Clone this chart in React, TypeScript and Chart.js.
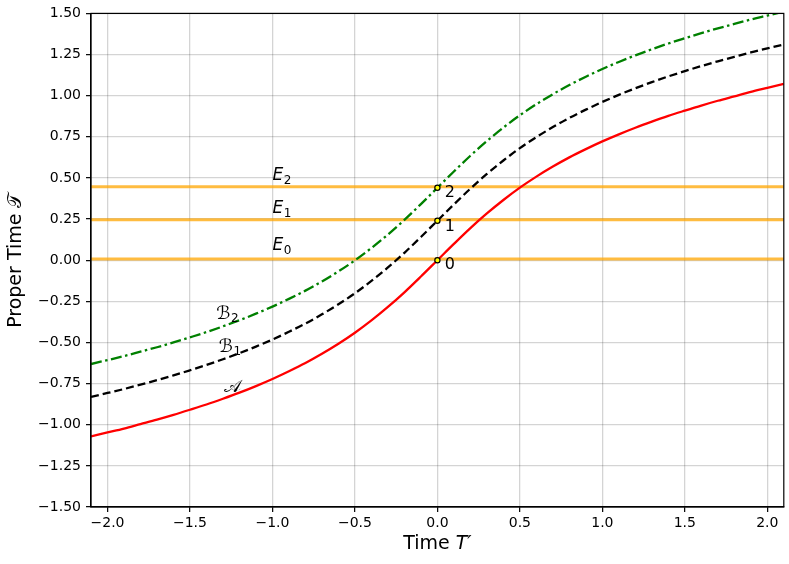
import React, { useEffect, useRef } from "react";
import { Chart, registerables } from "chart.js";

Chart.register(...registerables);

// ---- data ----
const T_PRIME = [
  -2.1, -2.0, -1.9, -1.8, -1.7, -1.6, -1.5, -1.4, -1.3, -1.2, -1.1, -1.0, -0.9, -0.8, -0.7, -0.6, -0.5, -0.4, -0.3, -0.2, -0.1,
  0.0, 0.1, 0.2, 0.3, 0.4, 0.5, 0.6, 0.7, 0.8, 0.9, 1.0, 1.1, 1.2, 1.3, 1.4, 1.5, 1.6, 1.7, 1.8, 1.9, 2.0, 2.1,
];
const CURVE_A = [
  -1.071, -1.047, -1.023, -0.996, -0.969, -0.94, -0.909, -0.877, -0.842, -0.805, -0.765, -0.722, -0.675, -0.625, -0.569, -0.508, -0.441, -0.366, -0.284, -0.195, -0.099,
  0.0, 0.099, 0.195, 0.284, 0.366, 0.441, 0.508, 0.569, 0.625, 0.675, 0.722, 0.765, 0.805, 0.842, 0.877, 0.909, 0.94, 0.969, 0.996, 1.023, 1.047, 1.071,
];
const CURVE_B1 = [
  -0.831, -0.807, -0.783, -0.756, -0.729, -0.7, -0.669, -0.637, -0.602, -0.565, -0.525, -0.482, -0.435, -0.385, -0.329, -0.268, -0.201, -0.126, -0.044, 0.045, 0.141,
  0.24, 0.339, 0.435, 0.524, 0.606, 0.681, 0.748, 0.809, 0.865, 0.915, 0.962, 1.005, 1.045, 1.082, 1.117, 1.149, 1.18, 1.209, 1.236, 1.263, 1.287, 1.311,
];
const CURVE_B2 = [
  -0.631, -0.607, -0.583, -0.556, -0.529, -0.5, -0.469, -0.437, -0.402, -0.365, -0.325, -0.282, -0.235, -0.185, -0.129, -0.068, -0.001, 0.074, 0.156, 0.245, 0.341,
  0.44, 0.539, 0.635, 0.724, 0.806, 0.881, 0.948, 1.009, 1.065, 1.115, 1.162, 1.205, 1.245, 1.282, 1.317, 1.349, 1.38, 1.409, 1.436, 1.463, 1.487, 1.511,
];
const EVENT_LEVELS = [0.008, 0.246, 0.446]; // E0, E1, E2
const EVENT_LEVEL_NAMES = ["0", "1", "2"];
const EVENT_POINT_T = [0, 0, 0];
const EVENT_POINT_TAU = [0.0, 0.24, 0.44];
const EVENT_POINT_LABELS = ["0", "1", "2"];
const X_TICKS = [-2.0, -1.5, -1.0, -0.5, 0.0, 0.5, 1.0, 1.5, 2.0];
const Y_TICKS = [-1.5, -1.25, -1.0, -0.75, -0.5, -0.25, 0.0, 0.25, 0.5, 0.75, 1.0, 1.25, 1.5];
const X_RANGE = [-2.1, 2.1];
const Y_RANGE = [-1.5, 1.5];

// annotation anchors (data coordinates: left edge, baseline)
const E_LABEL_POS = [
  [-1.0, 0.06],
  [-1.0, 0.287],
  [-1.0, 0.485],
];
const CURVE_LABELS = [
  { main: "ℬ", sub: "2", x: -1.34, y: -0.357 },
  { main: "ℬ", sub: "1", x: -1.325, y: -0.555 },
  { main: "𝒜", sub: "", x: -1.295, y: -0.803 },
];
const POINT_LABEL_POS = [
  [0.045, -0.054],
  [0.045, 0.18],
  [0.045, 0.383],
];

const FONT = "DejaVu Sans";
const minus = (s: string) => s.replace("-", "\u2212");

function drawSub(ctx: CanvasRenderingContext2D, main: string, sub: string, px: number, py: number, font: string, subFont: string, dy: number) {
  ctx.font = font;
  ctx.fillText(main, px, py);
  if (sub) {
    const w = ctx.measureText(main).width;
    ctx.font = subFont;
    ctx.fillText(sub, px + w + 0.5, py + dy);
  }
}

function drawRuns(ctx: CanvasRenderingContext2D, runs: [string, string][], cx: number, cy: number) {
  let total = 0;
  runs.forEach(([t, f]) => {
    ctx.font = f;
    total += ctx.measureText(t).width;
  });
  let px = cx - total / 2;
  ctx.textAlign = "left";
  ctx.textBaseline = "middle";
  runs.forEach(([t, f]) => {
    ctx.font = f;
    ctx.fillText(t, px, cy);
    px += ctx.measureText(t).width;
  });
}

const annotations = {
  id: "annotations",
  afterDraw(chart: any) {
    const { ctx, chartArea: a, scales } = chart;
    const x = scales.x;
    const y = scales.y;
    ctx.save();
    ctx.strokeStyle = "#000";
    ctx.lineWidth = 1.2;
    ctx.strokeRect(a.left, a.top, a.right - a.left, a.bottom - a.top);
    ctx.fillStyle = "#000";
    ctx.textAlign = "left";
    ctx.textBaseline = "alphabetic";
    EVENT_LEVEL_NAMES.forEach((n, i) => {
      const [lx, ly] = E_LABEL_POS[i];
      drawSub(ctx, "E", n, x.getPixelForValue(lx), y.getPixelForValue(ly), `italic 17px ${FONT}`, `12px ${FONT}`, 4);
    });
    CURVE_LABELS.forEach((c) => {
      drawSub(ctx, c.main, c.sub, x.getPixelForValue(c.x), y.getPixelForValue(c.y), `18px ${FONT}`, `12px ${FONT}`, 3);
    });
    EVENT_POINT_LABELS.forEach((n, i) => {
      const [lx, ly] = POINT_LABEL_POS[i];
      ctx.font = `16px ${FONT}`;
      ctx.fillText(n, x.getPixelForValue(lx), y.getPixelForValue(ly));
    });
    // axis titles
    const midX = (a.left + a.right) / 2;
    drawRuns(ctx, [["Time ", `19px ${FONT}`], ["T\u2032", `italic 19px ${FONT}`]], midX, 544);
    ctx.save();
    ctx.translate(16, (a.top + a.bottom) / 2);
    ctx.rotate(-Math.PI / 2);
    drawRuns(ctx, [["Proper Time ", `19px ${FONT}`], ["\uD835\uDCAF", `19px ${FONT}`]], 0, 0);
    ctx.restore();
    ctx.restore();
  },
};

export default function App() {
  const ref = useRef<HTMLCanvasElement | null>(null);
  useEffect(() => {
    document.body.style.margin = "0";
    const canvas = ref.current!;
    const pts = (ys: number[]) => T_PRIME.map((t, i) => ({ x: t, y: ys[i] }));
    const gridOpts = { color: "rgba(0,0,0,0.17)", lineWidth: 1.3, tickColor: "#000", tickLength: 5, tickWidth: 1.2 };
    const chart = new Chart(canvas, {
      type: "scatter",
      data: {
        datasets: [
          {
            label: "events",
            data: EVENT_POINT_T.map((t, i) => ({ x: t, y: EVENT_POINT_TAU[i] })),
            showLine: false,
            pointRadius: 2.6,
            pointBackgroundColor: "#ffff00",
            pointBorderColor: "#000",
            pointBorderWidth: 1.2,
          },
          {
            label: "B2",
            data: pts(CURVE_B2),
            showLine: true,
            borderColor: "#008000",
            borderWidth: 2.3,
            borderDash: [11, 3.5, 2.5, 3.5],
            pointRadius: 0,
            cubicInterpolationMode: "monotone",
          },
          {
            label: "B1",
            data: pts(CURVE_B1),
            showLine: true,
            borderColor: "#000",
            borderWidth: 2.3,
            borderDash: [8, 4],
            pointRadius: 0,
            cubicInterpolationMode: "monotone",
          },
          {
            label: "A",
            data: pts(CURVE_A),
            showLine: true,
            borderColor: "#ff0000",
            borderWidth: 2.3,
            pointRadius: 0,
            cubicInterpolationMode: "monotone",
          },
          ...EVENT_LEVELS.map((lv, i) => ({
            label: "E" + EVENT_LEVEL_NAMES[i],
            data: [
              { x: X_RANGE[0], y: lv },
              { x: X_RANGE[1], y: lv },
            ],
            showLine: true,
            borderColor: "rgba(255,165,0,0.75)",
            borderWidth: 3,
            pointRadius: 0,
          })),
        ],
      },
      options: {
        animation: false,
        responsive: false,
        devicePixelRatio: 1,
        layout: { padding: { top: 11, right: 5, left: 0, bottom: 0 } },
        plugins: { legend: { display: false }, tooltip: { enabled: false } },
        scales: {
          x: {
            type: "linear",
            min: X_RANGE[0],
            max: X_RANGE[1],
            afterBuildTicks: (s: any) => {
              s.ticks = X_TICKS.map((v) => ({ value: v }));
            },
            afterFit: (s: any) => {
              s.height = 57;
            },
            grid: gridOpts,
            border: { color: "#000", width: 1.2 },
            ticks: {
              color: "#000",
              font: { family: FONT, size: 14 },
              padding: 3,
              maxRotation: 0,
              callback: (v: any) => minus(Number(v).toFixed(1)),
            },
            title: { display: false },
          },
          y: {
            type: "linear",
            min: Y_RANGE[0],
            max: Y_RANGE[1],
            afterBuildTicks: (s: any) => {
              s.ticks = Y_TICKS.map((v) => ({ value: v }));
            },
            afterFit: (s: any) => {
              s.width = 91;
            },
            grid: gridOpts,
            border: { color: "#000", width: 1.2 },
            ticks: {
              color: "#000",
              font: { family: FONT, size: 14 },
              padding: 5,
              callback: (v: any) => minus(Number(v).toFixed(2)),
            },
            title: { display: false },
          },
        },
      },
      plugins: [annotations],
    } as any);
    return () => chart.destroy();
  }, []);
  return (
    <div style={{ position: "absolute", left: 0, top: 0, width: 789, height: 564, background: "#fff" }}>
      <canvas ref={ref} width={789} height={564} />
    </div>
  );
}
